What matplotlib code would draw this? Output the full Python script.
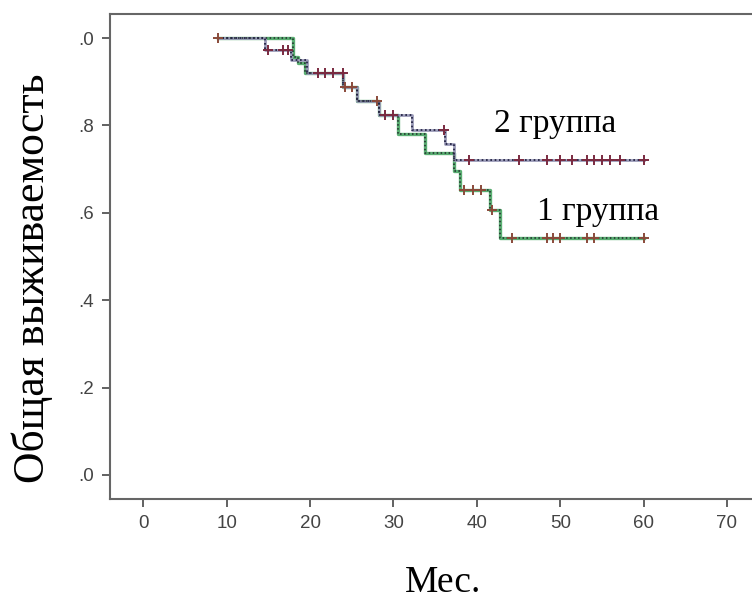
import numpy as np
import matplotlib
matplotlib.use("Agg")
import matplotlib.pyplot as plt

# ---- data ----
# group 1 (green)
g1_times = [9.0, 18.0, 18.6, 19.4, 24.0, 25.6, 28.3, 30.5, 33.8, 37.2, 38.0, 41.6, 42.8, 60.0]
g1_surv = [1.0, 0.957, 0.943, 0.92, 0.888, 0.856, 0.824, 0.78, 0.737, 0.695, 0.652, 0.606, 0.542, 0.542]
g1_cens = [9.0, 24.2, 25.0, 28.0, 38.5, 39.5, 40.5, 41.8, 44.2, 48.4, 49.1, 50.0, 53.2, 54.0, 60.0]

# group 2 (dark)
g2_times = [9.0, 14.6, 17.7, 19.6, 24.0, 25.6, 28.3, 32.2, 36.2, 37.2, 60.0]
g2_surv = [1.0, 0.973, 0.95, 0.92, 0.888, 0.856, 0.824, 0.79, 0.757, 0.72, 0.72]
g2_cens = [15.0, 16.7, 17.3, 21.0, 21.8, 22.8, 23.9, 29.0, 30.0, 36.0, 39.0, 45.0, 48.4,
           50.0, 51.4, 53.2, 54.0, 55.0, 56.0, 57.2, 60.0]

x_ticks = [0, 10, 20, 30, 40, 50, 60, 70]
y_ticks = [0.0, 0.2, 0.4, 0.6, 0.8, 1.0]
y_labels = [".0", ".2", ".4", ".6", ".8", ".0"]


def surv_at(times, surv, t):
    i = np.searchsorted(times, t, side="right") - 1
    return surv[max(i, 0)]


fig = plt.figure(figsize=(7.52, 6.01), dpi=100)
ax = fig.add_axes([110 / 752, 102 / 601, 1 - 110 / 752, 485 / 601])

# group 1: green line with dark dots on top
ax.step(g1_times, g1_surv, where="post", color="#5aae72", lw=2.4, zorder=2)
ax.step(g1_times, g1_surv, where="post", color="#1e2a2a", lw=1.1, ls=(0, (1, 1.6)), zorder=3)
ax.plot(g1_cens, [surv_at(g1_times, g1_surv, t) for t in g1_cens], ls="none",
        marker="+", ms=7, mew=1.4, color="#8a4a3a", zorder=4)

# group 2: dark dotted line
ax.step(g2_times, g2_surv, where="post", color="#9a9ab8", lw=2.0, zorder=2)
ax.step(g2_times, g2_surv, where="post", color="#1a1a3a", lw=1.2, ls=(0, (1, 1.6)), zorder=3)
ax.plot(g2_cens, [surv_at(g2_times, g2_surv, t) for t in g2_cens], ls="none",
        marker="+", ms=7, mew=1.4, color="#7a2a40", zorder=4)

ax.set_xlim(-4, 73)
ax.set_ylim(-0.055, 1.055)
ax.set_xticks(x_ticks)
ax.set_yticks(y_ticks)
ax.set_yticklabels(y_labels)
ax.tick_params(direction="out", length=5.5, width=1.3, color="#555555",
               labelsize=13.5, labelcolor="#444444", pad=6)
for lab in ax.get_xticklabels() + ax.get_yticklabels():
    lab.set_family("Liberation Sans")

for side in ["left", "top", "bottom"]:
    ax.spines[side].set_color("#666666")
    ax.spines[side].set_linewidth(1.5)
ax.spines["right"].set_visible(False)

serif = "Liberation Serif"
ax.text(42.0, 0.785, "2 группа", family=serif, fontsize=24, color="black",
        ha="left", va="baseline")
ax.text(47.2, 0.583, "1 группа", family=serif, fontsize=24, color="black",
        ha="left", va="baseline")

fig.text(443 / 752, 1 - 583 / 601, "Мес.", family=serif, fontsize=27,
         ha="center", va="center")
fig.text(32 / 752, 1 - 278 / 601, "Общая выживаемость", family=serif, fontsize=31.5,
         rotation=90, ha="center", va="center")

fig.savefig("out.png", dpi=100)
